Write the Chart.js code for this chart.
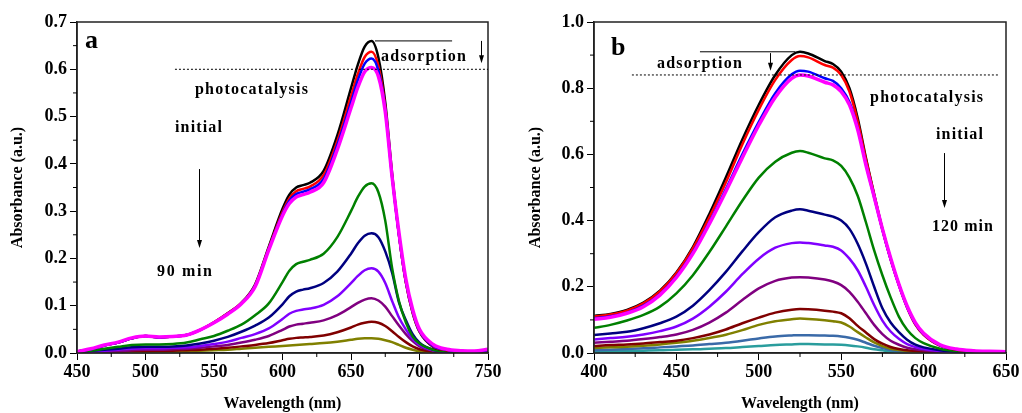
<!DOCTYPE html>
<html>
<head>
<meta charset="utf-8">
<script src="https://cdn.jsdelivr.net/npm/chart.js@4.4.0/dist/chart.umd.min.js"></script>
<style>
  html, body { margin: 0; padding: 0; background: #fff; }
  #wrapA { position: absolute; left: 0; top: 0; width: 511px; height: 413px; }
  #wrapB { position: absolute; left: 517px; top: 0; width: 505px; height: 413px; }
</style>
</head>
<body>
<div id="wrapA"><canvas id="chartA"></canvas></div>
<div id="wrapB"><canvas id="chartB"></canvas></div>
<script>
// panel a: wavelengths (nm) and absorbance curves, initial -> 90 min
const waveA = [450,460,470,480,490,500,510,520,530,540,550,560,570,580,590,600,605,610,615,620,630,640,650,655,660,665,670,675,680,685,690,695,700,710,720,730,740,750];
const blackA = [0.003,0.008,0.016,0.022,0.031,0.036,0.033,0.035,0.038,0.049,0.065,0.084,0.106,0.145,0.225,0.305,0.335,0.35,0.355,0.36,0.385,0.46,0.56,0.61,0.648,0.66,0.625,0.53,0.38,0.25,0.15,0.085,0.045,0.013,0.006,0.004,0.003,0.005];
const redA = [0.003,0.008,0.016,0.022,0.031,0.036,0.033,0.035,0.038,0.049,0.065,0.084,0.106,0.143,0.222,0.298,0.327,0.342,0.347,0.352,0.376,0.448,0.543,0.59,0.626,0.637,0.607,0.52,0.375,0.25,0.15,0.086,0.046,0.014,0.006,0.004,0.003,0.005];
const blueA = [0.003,0.008,0.016,0.022,0.031,0.036,0.033,0.035,0.038,0.049,0.064,0.083,0.105,0.142,0.22,0.294,0.322,0.336,0.341,0.346,0.368,0.44,0.53,0.577,0.612,0.623,0.597,0.515,0.372,0.25,0.152,0.088,0.047,0.015,0.007,0.004,0.003,0.006];
const magentaA = [0.003,0.009,0.017,0.023,0.032,0.036,0.034,0.035,0.038,0.049,0.064,0.082,0.104,0.14,0.218,0.29,0.316,0.33,0.335,0.34,0.36,0.43,0.518,0.562,0.595,0.604,0.585,0.51,0.372,0.255,0.157,0.092,0.05,0.018,0.008,0.005,0.004,0.008];
const greenA = [0.002,0.005,0.009,0.013,0.017,0.018,0.018,0.019,0.022,0.029,0.036,0.047,0.06,0.08,0.105,0.15,0.174,0.188,0.193,0.197,0.21,0.245,0.3,0.33,0.352,0.359,0.34,0.28,0.18,0.11,0.065,0.035,0.02,0.007,0.004,0.003,0.002,0.002];
const navyA = [0.001,0.004,0.007,0.009,0.012,0.013,0.013,0.014,0.016,0.02,0.026,0.034,0.045,0.058,0.075,0.103,0.12,0.13,0.134,0.137,0.148,0.172,0.21,0.232,0.248,0.253,0.245,0.215,0.17,0.107,0.07,0.04,0.022,0.007,0.003,0.002,0.002,0.002];
const violetA = [0.001,0.003,0.005,0.007,0.009,0.01,0.01,0.011,0.012,0.015,0.019,0.024,0.032,0.04,0.052,0.072,0.083,0.089,0.092,0.094,0.102,0.12,0.148,0.163,0.175,0.179,0.172,0.148,0.11,0.075,0.05,0.03,0.017,0.006,0.003,0.002,0.001,0.002];
const purpleA = [0.001,0.002,0.003,0.004,0.006,0.007,0.007,0.008,0.009,0.011,0.014,0.017,0.022,0.028,0.036,0.049,0.056,0.06,0.062,0.064,0.069,0.08,0.097,0.106,0.113,0.116,0.111,0.098,0.078,0.058,0.04,0.025,0.014,0.005,0.002,0.001,0.001,0.001];
const maroonA = [0.001,0.001,0.002,0.003,0.004,0.004,0.005,0.005,0.006,0.007,0.009,0.011,0.014,0.017,0.021,0.027,0.03,0.032,0.033,0.034,0.037,0.044,0.054,0.06,0.064,0.066,0.064,0.057,0.046,0.034,0.023,0.014,0.008,0.003,0.001,0.001,0.001,0.001];
const oliveA = [0,0.001,0.001,0.002,0.002,0.003,0.003,0.003,0.004,0.005,0.006,0.007,0.009,0.011,0.013,0.015,0.016,0.017,0.018,0.019,0.021,0.024,0.028,0.03,0.031,0.031,0.03,0.027,0.023,0.017,0.011,0.007,0.004,0.002,0.001,0.001,0.001,0.001];

// panel b: initial -> 120 min
const waveB = [400,410,420,430,440,450,460,470,480,490,500,510,520,525,530,540,545,550,555,560,565,570,575,580,585,590,595,600,610,620,630,640,650];
const blackB = [0.112,0.118,0.13,0.152,0.188,0.243,0.32,0.42,0.53,0.645,0.75,0.84,0.9,0.91,0.905,0.882,0.873,0.85,0.8,0.71,0.59,0.48,0.375,0.285,0.207,0.14,0.088,0.056,0.022,0.01,0.006,0.004,0.003];
const redB = [0.11,0.116,0.128,0.15,0.186,0.241,0.316,0.41,0.515,0.63,0.735,0.825,0.885,0.897,0.893,0.87,0.862,0.84,0.79,0.7,0.585,0.477,0.373,0.283,0.205,0.137,0.086,0.055,0.022,0.01,0.006,0.004,0.003];
const blueB = [0.105,0.111,0.122,0.143,0.178,0.232,0.305,0.395,0.495,0.6,0.698,0.785,0.842,0.853,0.85,0.83,0.822,0.8,0.758,0.68,0.57,0.47,0.372,0.283,0.205,0.138,0.088,0.057,0.023,0.011,0.006,0.004,0.003];
const magentaB = [0.102,0.108,0.12,0.14,0.175,0.228,0.3,0.39,0.488,0.59,0.688,0.773,0.83,0.84,0.837,0.818,0.81,0.79,0.75,0.675,0.568,0.472,0.375,0.287,0.208,0.142,0.092,0.06,0.025,0.012,0.007,0.005,0.004];
const greenB = [0.076,0.085,0.098,0.115,0.14,0.18,0.235,0.305,0.382,0.46,0.53,0.578,0.605,0.61,0.605,0.588,0.582,0.565,0.53,0.475,0.395,0.31,0.235,0.168,0.11,0.07,0.045,0.03,0.013,0.006,0.004,0.003,0.002];
const navyB = [0.054,0.059,0.064,0.075,0.09,0.11,0.143,0.19,0.245,0.307,0.365,0.41,0.43,0.434,0.43,0.418,0.412,0.4,0.375,0.33,0.27,0.2,0.135,0.092,0.063,0.04,0.025,0.017,0.008,0.004,0.003,0.002,0.002];
const violetB = [0.041,0.045,0.049,0.056,0.066,0.08,0.104,0.14,0.185,0.238,0.285,0.318,0.332,0.334,0.332,0.325,0.321,0.31,0.285,0.25,0.2,0.145,0.098,0.065,0.043,0.027,0.018,0.012,0.006,0.003,0.002,0.002,0.001];
const purpleB = [0.031,0.034,0.037,0.042,0.048,0.056,0.07,0.092,0.122,0.16,0.195,0.218,0.228,0.229,0.228,0.222,0.216,0.205,0.185,0.155,0.12,0.085,0.057,0.037,0.025,0.016,0.011,0.008,0.004,0.002,0.002,0.001,0.001];
const maroonB = [0.021,0.024,0.026,0.029,0.033,0.037,0.045,0.056,0.071,0.09,0.107,0.122,0.131,0.133,0.132,0.128,0.125,0.12,0.105,0.082,0.062,0.042,0.028,0.018,0.012,0.008,0.006,0.004,0.002,0.002,0.001,0.001,0.001];
const oliveB = [0.015,0.017,0.019,0.022,0.026,0.031,0.037,0.045,0.055,0.069,0.085,0.096,0.102,0.104,0.103,0.099,0.096,0.092,0.08,0.063,0.047,0.032,0.021,0.013,0.009,0.006,0.004,0.003,0.002,0.001,0.001,0.001,0.001];
const steelB = [0.008,0.01,0.012,0.014,0.017,0.02,0.023,0.027,0.031,0.037,0.044,0.05,0.053,0.054,0.054,0.053,0.052,0.05,0.046,0.04,0.031,0.022,0.015,0.009,0.006,0.004,0.003,0.002,0.001,0.001,0.001,0.001,0.001];
const tealB = [0.004,0.005,0.006,0.007,0.008,0.01,0.011,0.013,0.015,0.018,0.021,0.024,0.026,0.027,0.027,0.026,0.026,0.025,0.023,0.02,0.016,0.011,0.008,0.005,0.003,0.002,0.002,0.001,0.001,0.001,0.001,0.001,0.001];

// tick values
const xTicksA = [450,500,550,600,650,700,750];
const xMinorA = [475,525,575,625,675,725];
const yTicksA = [0,0.1,0.2,0.3,0.4,0.5,0.6,0.7];
const yMinorA = [0.05,0.15,0.25,0.35,0.45,0.55,0.65];
const xTicksB = [400,450,500,550,600,650];
const xMinorB = [425,475,525,575,625];
const yTicksB = [0,0.2,0.4,0.6,0.8,1.0];
const yMinorB = [0.1,0.3,0.5,0.7,0.9];

const serif = '"Liberation Serif", "Times New Roman", serif';

function spacedText(ctx, text, x, y, width) {
  const chars = [...text];
  const raw = chars.reduce((s, c) => s + ctx.measureText(c).width, 0);
  const gap = chars.length > 1 ? (width - raw) / (chars.length - 1) : 0;
  let cx = x;
  chars.forEach(c => { ctx.fillText(c, cx, y); cx += ctx.measureText(c).width + gap; });
}

const decorPlugin = {
  id: 'decor',
  afterDraw(chart, args, opts) {
    const { ctx, chartArea: a, scales: { x, y } } = chart;
    ctx.save();
    ctx.strokeStyle = '#222';
    ctx.lineWidth = 1.5;
    ctx.strokeRect(a.left, a.top, a.right - a.left, a.bottom - a.top);

    ctx.strokeStyle = '#000';
    ctx.lineWidth = 1;
    ctx.beginPath();
    opts.minorX.forEach(v => { const px = x.getPixelForValue(v); ctx.moveTo(px, a.bottom); ctx.lineTo(px, a.bottom + 4); });
    opts.minorY.forEach(v => { const py = y.getPixelForValue(v); ctx.moveTo(a.left, py); ctx.lineTo(a.left - 4, py); });
    ctx.stroke();

    // dotted level line
    ctx.setLineDash([2, 2]);
    ctx.beginPath();
    const dy = y.getPixelForValue(opts.dotted.y);
    ctx.moveTo(x.getPixelForValue(opts.dotted.x1), dy);
    ctx.lineTo(x.getPixelForValue(opts.dotted.x2), dy);
    ctx.stroke();
    ctx.setLineDash([]);

    // solid line from the peak
    ctx.beginPath();
    const sy = y.getPixelForValue(opts.solid.y);
    ctx.moveTo(x.getPixelForValue(opts.solid.x1), sy);
    ctx.lineTo(x.getPixelForValue(opts.solid.x2), sy);
    ctx.stroke();

    // arrows
    ctx.fillStyle = '#000';
    opts.arrows.forEach(ar => {
      const px = Math.round(x.getPixelForValue(ar.x)) + 0.5;
      const y1 = y.getPixelForValue(ar.y1), y2 = y.getPixelForValue(ar.y2);
      ctx.beginPath();
      ctx.moveTo(px, y1);
      ctx.lineTo(px, y2 - 4);
      ctx.stroke();
      ctx.beginPath();
      ctx.moveTo(px - 2.5, y2 - 8);
      ctx.lineTo(px + 2.5, y2 - 8);
      ctx.lineTo(px, y2);
      ctx.closePath();
      ctx.fill();
    });

    // texts
    ctx.textBaseline = 'middle';
    ctx.textAlign = 'left';
    ctx.font = 'bold 16px ' + serif;
    opts.notes.forEach(n => {
      spacedText(ctx, n.text, x.getPixelForValue(n.x), y.getPixelForValue(n.y), n.w);
    });

    ctx.textBaseline = 'alphabetic';
    ctx.font = 'bold 26px ' + serif;
    ctx.fillText(opts.letter.text, x.getPixelForValue(opts.letter.x), y.getPixelForValue(opts.letter.y));
    ctx.restore();
  }
};

function makeChart(id, wave, series, xr, yr, padRight, titlePad, decor) {
  const datasets = series.map(s => ({
    data: wave.map((w, i) => ({ x: w, y: s.values[i] })),
    borderColor: s.color,
    borderWidth: s.width || 2.5,
    pointRadius: 0,
    fill: false,
    cubicInterpolationMode: 'monotone'
  }));
  return new Chart(document.getElementById(id), {
    type: 'line',
    data: { datasets: datasets },
    plugins: [decorPlugin],
    options: {
      responsive: true,
      maintainAspectRatio: false,
      animation: false,
      layout: { padding: { top: 22, right: padRight, left: 0, bottom: 0 } },
      plugins: { legend: { display: false }, tooltip: { enabled: false }, decor: decor },
      scales: {
        x: {
          type: 'linear',
          min: xr.min, max: xr.max,
          afterBuildTicks: sc => { sc.ticks = xr.ticks.map(v => ({ value: v })); },
          afterFit: sc => { sc.height = 60; },
          ticks: { font: { family: serif, size: 18, weight: 'bold' }, color: '#000', padding: 2, maxRotation: 0, autoSkip: false },
          grid: { drawOnChartArea: false, tickLength: 7, color: '#000' },
          border: { color: '#222', width: 1.5 },
          title: { display: true, text: 'Wavelength (nm)', color: '#000', font: { family: serif, size: 16, weight: 'bold' }, padding: { top: 4, bottom: 0 } }
        },
        y: {
          min: yr.min, max: yr.max,
          afterBuildTicks: sc => { sc.ticks = yr.ticks.map(v => ({ value: v })); },
          afterFit: sc => { sc.width = 77; },
          ticks: { font: { family: serif, size: 18, weight: 'bold' }, color: '#000', padding: 3, callback: v => v.toFixed(1) },
          grid: { drawOnChartArea: false, tickLength: 7, color: '#000' },
          border: { color: '#222', width: 1.5 },
          title: { display: true, text: 'Absorbance (a.u.)', color: '#000', font: { family: serif, size: 16, weight: 'bold' }, padding: { top: titlePad, bottom: 0 } }
        }
      }
    }
  });
}

makeChart('chartA', waveA, [
  { values: magentaA, color: '#ff00ff', width: 3.5 },
  { values: blueA, color: '#0000ff' },
  { values: redA, color: '#ff0000' },
  { values: blackA, color: '#000000' },
  { values: greenA, color: '#008000' },
  { values: navyA, color: '#000080' },
  { values: violetA, color: '#8000ff' },
  { values: purpleA, color: '#800080' },
  { values: maroonA, color: '#800000' },
  { values: oliveA, color: '#808000' }
], { min: 450, max: 750, ticks: xTicksA }, { min: 0, max: 0.7, ticks: yTicksA }, 23, 8, {
  minorX: xMinorA, minorY: yMinorA,
  dotted: { y: 0.6, x1: 521.5, x2: 750 },
  solid: { y: 0.66, x1: 667.5, x2: 723.8 },
  arrows: [{ x: 744.9, y1: 0.66, y2: 0.613 }, { x: 539, y1: 0.389, y2: 0.222 }],
  notes: [
    { text: 'photocatalysis', x: 536.1, y: 0.556, w: 113 },
    { text: 'initial', x: 521.5, y: 0.476, w: 47 },
    { text: '90 min', x: 508.4, y: 0.171, w: 55 },
    { text: 'adsorption', x: 671.9, y: 0.626, w: 85 }
  ],
  letter: { text: 'a', x: 455.8, y: 0.645 }
});

makeChart('chartB', waveB, [
  { values: magentaB, color: '#ff00ff', width: 3.5 },
  { values: blueB, color: '#0000ff' },
  { values: redB, color: '#ff0000' },
  { values: blackB, color: '#000000' },
  { values: greenB, color: '#008000' },
  { values: navyB, color: '#000080' },
  { values: violetB, color: '#8000ff' },
  { values: purpleB, color: '#800080' },
  { values: maroonB, color: '#800000' },
  { values: oliveB, color: '#808000' },
  { values: steelB, color: '#3a6aa8' },
  { values: tealB, color: '#2a9d9d' }
], { min: 400, max: 650, ticks: xTicksB }, { min: 0, max: 1.0, ticks: yTicksB }, 16, 9, {
  minorX: xMinorB, minorY: yMinorB,
  dotted: { y: 0.84, x1: 423, x2: 645.1 },
  solid: { y: 0.91, x1: 464.3, x2: 522 },
  arrows: [{ x: 506.8, y1: 0.906, y2: 0.853 }, { x: 612.4, y1: 0.604, y2: 0.438 }],
  notes: [
    { text: 'adsorption', x: 438.2, y: 0.873, w: 85 },
    { text: 'photocatalysis', x: 567.5, y: 0.770, w: 113 },
    { text: 'initial', x: 607.5, y: 0.659, w: 47 },
    { text: '120 min', x: 605.1, y: 0.381, w: 61 }
  ],
  letter: { text: 'b', x: 410.3, y: 0.9 }
});
</script>
</body>
</html>
